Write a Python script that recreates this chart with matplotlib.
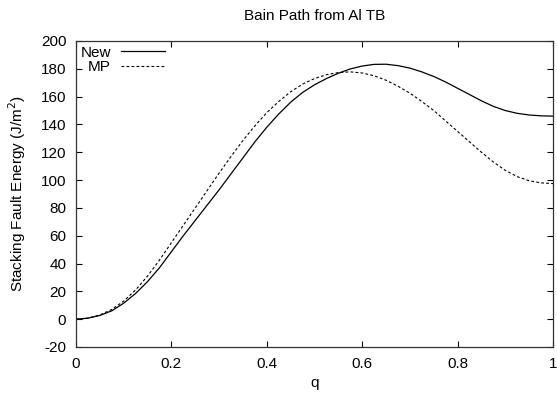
import matplotlib
matplotlib.use("Agg")
from matplotlib import pyplot as plt

plt.rcParams['font.family'] = ['Liberation Sans', 'DejaVu Sans']
plt.rcParams['axes.unicode_minus'] = False

# values
q = [0.0, 0.025, 0.05, 0.075, 0.1, 0.125, 0.15, 0.175, 0.2, 0.225,
     0.25, 0.275, 0.3, 0.325, 0.35, 0.375, 0.4, 0.425, 0.45, 0.475,
     0.5, 0.525, 0.55, 0.575, 0.6, 0.625, 0.65, 0.675, 0.7, 0.725,
     0.75, 0.775, 0.8, 0.825, 0.85, 0.875, 0.9, 0.925, 0.95, 0.975, 1.0]
sfe_new = [0.0, 0.7, 2.7, 6.0, 11.5, 18.5, 27.0, 37.0, 48.5, 60.0,
           71.0, 82.0, 93.0, 104.5, 116.0, 127.5, 138.0, 147.5, 156.0, 163.0,
           168.5, 173.0, 176.8, 179.9, 182.0, 183.2, 183.3, 182.3, 180.5, 177.8,
           174.5, 170.5, 166.0, 161.5, 157.0, 153.0, 150.0, 148.0, 146.8, 146.2, 146.0]
sfe_mp = [0.0, 0.8, 3.0, 7.0, 13.0, 21.0, 31.0, 42.5, 55.0, 67.5,
          80.0, 92.5, 105.0, 117.0, 128.5, 139.0, 148.5, 156.5, 163.5, 169.0,
          173.0, 175.8, 177.3, 177.8, 177.0, 175.0, 171.8, 167.5, 162.5, 156.5,
          150.0, 142.5, 135.0, 127.5, 120.0, 113.0, 107.0, 102.5, 99.5, 98.0, 97.5]

xticks = [0, 0.2, 0.4, 0.6, 0.8, 1]
xtick_labels = ["0", "0.2", "0.4", "0.6", "0.8", "1"]
yticks = list(range(-20, 201, 20))

fig = plt.figure(figsize=(5.57, 3.98), dpi=100)
ax = fig.add_axes([76 / 557, 51 / 398, 477 / 557, 306 / 398])

ax.plot(q, sfe_new, color="black", lw=0.9, label="New")
ax.plot(q, sfe_mp, color="black", lw=0.8, linestyle=(0, (2.5, 2)), label="MP")

ax.set_xlim(0, 1)
ax.set_ylim(-20, 200)
ax.set_xticks(xticks)
ax.set_xticklabels(xtick_labels)
ax.set_yticks(yticks)
ax.tick_params(direction="in", length=4, width=0.8, labelsize=11, pad=7,
               top=True, right=True)
for s in ax.spines.values():
    s.set_linewidth(0.9)
    s.set_color("#333333")

ax.set_title("Bain Path from Al TB", fontsize=11, pad=15)
ax.set_xlabel("q", fontsize=11, labelpad=4)
ax.set_ylabel("Stacking Fault Energy (J/m$^2$)", fontsize=11, labelpad=9)

leg = ax.legend(loc="upper left", frameon=False, markerfirst=False,
                fontsize=11, handlelength=2.9, handletextpad=0.65,
                labelspacing=0.05, borderaxespad=0.15, borderpad=0.15)

plt.savefig("out.png", dpi=100)
